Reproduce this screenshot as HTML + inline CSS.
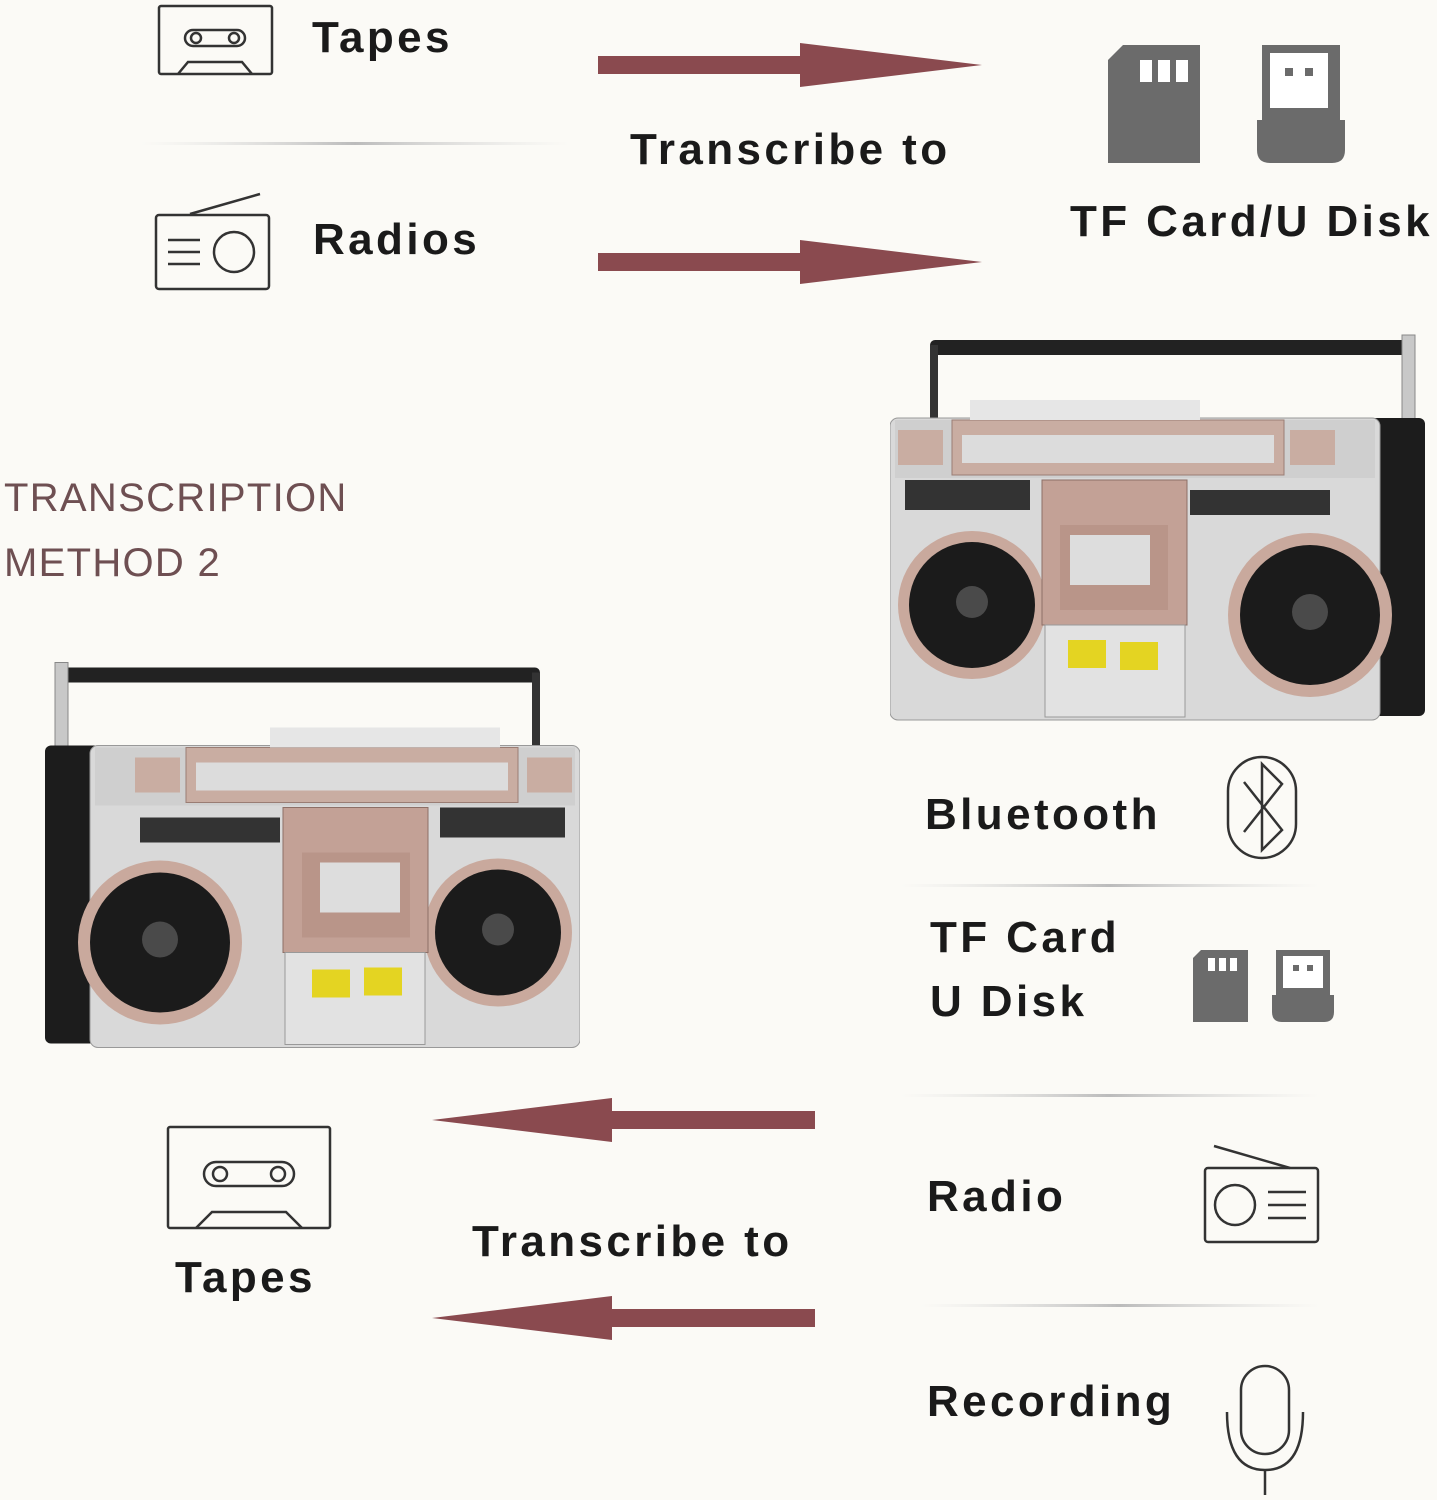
<!DOCTYPE html>
<html><head><meta charset="utf-8"><style>
body{margin:0;width:1437px;height:1500px;background:#fbfaf6;position:relative;overflow:hidden;font-family:"Liberation Sans",sans-serif}
.t{position:absolute;font-weight:bold;color:#1a1a1a;font-size:44px;line-height:1;white-space:nowrap;letter-spacing:3.4px}
.s{position:absolute;font-size:40px;color:#6e4f52;letter-spacing:1.3px;line-height:1}
svg{position:absolute}
</style></head><body>
<svg width="1437" height="1500" style="left:0;top:0">
<defs>
<linearGradient id="sep" x1="0" x2="1"><stop offset="0" stop-color="#ddd" stop-opacity="0"/><stop offset=".5" stop-color="#bbb"/><stop offset="1" stop-color="#ddd" stop-opacity="0"/></linearGradient>
</defs>
<rect x="140" y="142" width="430" height="3" fill="url(#sep)"/>
<rect x="900" y="884" width="420" height="3" fill="url(#sep)"/>
<rect x="900" y="1094" width="420" height="3" fill="url(#sep)"/>
<rect x="920" y="1304" width="400" height="3" fill="url(#sep)"/>
<g fill="#8a4a4f">
<polygon points="598,56 800,56 800,43 982,65 800,87 800,74 598,74"/>
<polygon points="598,253 800,253 800,240 982,262 800,284 800,271 598,271"/>
<polygon points="815,1111 612,1111 612,1098 432,1120 612,1142 612,1129 815,1129"/>
<polygon points="815,1309 612,1309 612,1296 432,1318 612,1340 612,1327 815,1327"/>
</g>
<g fill="none" stroke="#333" stroke-width="2.5">
<rect x="159" y="6" width="113" height="68" rx="2"/>
<rect x="185" y="30" width="60" height="16" rx="8"/>
<circle cx="196" cy="38" r="5"/><circle cx="234" cy="38" r="5"/>
<path d="M178,74 L188,62 L242,62 L252,74"/>
</g>
<g fill="none" stroke="#333" stroke-width="2.5">
<rect x="156" y="215" width="113" height="74" rx="3"/>
<line x1="190" y1="214" x2="260" y2="194"/>
<circle cx="234" cy="252" r="20"/>
<line x1="168" y1="240" x2="200" y2="240"/><line x1="168" y1="252" x2="200" y2="252"/><line x1="168" y1="264" x2="200" y2="264"/>
</g>
<path d="M1108,60 L1123,45 L1200,45 L1200,163 L1108,163 Z" fill="#6b6b6b"/>
<rect x="1140" y="60" width="12" height="22" fill="#fff"/><rect x="1158" y="60" width="12" height="22" fill="#fff"/><rect x="1176" y="60" width="12" height="22" fill="#fff"/>
<path d="M1262,45 L1340,45 L1340,120 L1345,120 L1345,150 Q1345,163 1332,163 L1270,163 Q1257,163 1257,150 L1257,120 L1262,120 Z" fill="#6b6b6b"/>
<rect x="1270" y="53" width="58" height="55" fill="#fff"/><rect x="1285" y="68" width="8" height="8" fill="#6b6b6b"/><rect x="1305" y="68" width="8" height="8" fill="#6b6b6b"/>
<rect x="1228" y="757" width="68" height="101" rx="34" fill="none" stroke="#333" stroke-width="2.5"/>
<path d="M1244,782 L1282,830 L1262,850 L1262,764 L1282,784 L1244,832" fill="none" stroke="#333" stroke-width="2.5"/>
<path d="M1193,958 L1201,950 L1248,950 L1248,1022 L1193,1022 Z" fill="#6b6b6b"/>
<rect x="1208" y="958" width="7" height="13" fill="#fff"/><rect x="1219" y="958" width="7" height="13" fill="#fff"/><rect x="1230" y="958" width="7" height="13" fill="#fff"/>
<path d="M1276,950 L1330,950 L1330,995 L1334,995 L1334,1012 Q1334,1022 1324,1022 L1282,1022 Q1272,1022 1272,1012 L1272,995 L1276,995 Z" fill="#6b6b6b"/>
<rect x="1283" y="956" width="40" height="32" fill="#fff"/><rect x="1293" y="965" width="6" height="6" fill="#6b6b6b"/><rect x="1307" y="965" width="6" height="6" fill="#6b6b6b"/>
<g fill="none" stroke="#333" stroke-width="2.5">
<rect x="168" y="1127" width="162" height="101" rx="2"/>
<rect x="204" y="1162" width="90" height="24" rx="12"/>
<circle cx="220" cy="1174" r="7"/><circle cx="278" cy="1174" r="7"/>
<path d="M196,1228 L212,1212 L286,1212 L302,1228"/>
</g>
<g fill="none" stroke="#333" stroke-width="2.5">
<rect x="1205" y="1168" width="113" height="74" rx="3"/>
<line x1="1214" y1="1146" x2="1290" y2="1168"/>
<circle cx="1235" cy="1205" r="20"/>
<line x1="1268" y1="1192" x2="1306" y2="1192"/><line x1="1268" y1="1205" x2="1306" y2="1205"/><line x1="1268" y1="1218" x2="1306" y2="1218"/>
</g>
<g fill="none" stroke="#333" stroke-width="2.5">
<rect x="1241" y="1366" width="48" height="88" rx="24"/>
<path d="M1227,1412 Q1227,1470 1265,1470 Q1303,1470 1303,1412"/>
<line x1="1265" y1="1470" x2="1265" y2="1495"/>
</g>
</svg>

<svg width="0" height="0" style="left:0;top:0"><defs>
<g id="bb">
<rect x="40" y="10" width="485" height="15" rx="5" fill="#222"/>
<rect x="40" y="15" width="8" height="80" fill="#333"/>
<rect x="512" y="5" width="13" height="135" fill="#c8c8c8" stroke="#888"/>
<rect x="470" y="88" width="65" height="298" rx="6" fill="#1c1c1c"/>
<rect x="0" y="88" width="490" height="302" rx="8" fill="#d9d9d9" stroke="#999"/>
<rect x="5" y="90" width="480" height="58" fill="#cfcfcf"/>
<rect x="62" y="90" width="332" height="55" fill="#c9ada2" stroke="#9a7d74"/>
<rect x="72" y="105" width="312" height="28" fill="#dcdcdc"/>
<rect x="8" y="100" width="45" height="35" fill="#c9ada2"/>
<rect x="400" y="100" width="45" height="35" fill="#c9ada2"/>
<rect x="80" y="70" width="230" height="20" fill="#e6e6e6"/>
<rect x="15" y="150" width="125" height="30" fill="#333"/>
<rect x="300" y="160" width="140" height="25" fill="#333"/>
<circle cx="82" cy="275" r="74" fill="#c9a99d"/>
<circle cx="82" cy="275" r="63" fill="#1b1b1b"/>
<circle cx="82" cy="272" r="16" fill="#4a4a4a"/>
<circle cx="420" cy="285" r="82" fill="#c9a99d"/>
<circle cx="420" cy="285" r="70" fill="#1b1b1b"/>
<circle cx="420" cy="282" r="18" fill="#4a4a4a"/>
<rect x="152" y="150" width="145" height="145" fill="#c3a196" stroke="#8d6f66"/>
<rect x="170" y="195" width="108" height="85" fill="#b99589"/>
<rect x="180" y="205" width="80" height="50" fill="#ddd"/>
<rect x="155" y="295" width="140" height="92" fill="#e2e2e2" stroke="#999"/>
<rect x="178" y="310" width="38" height="28" fill="#e4d422"/>
<rect x="230" y="312" width="38" height="28" fill="#e4d422"/>
</g></defs></svg>

<svg width="540" height="400" viewBox="0 0 540 400" style="left:890px;top:330px"><use href="#bb"/></svg>
<svg width="540" height="405" viewBox="0 0 540 400" style="left:40px;top:655px;transform:scaleX(-1)"><use href="#bb"/></svg>

<div class="t" style="left:312px;top:16px">Tapes</div>
<div class="t" style="left:313px;top:218px">Radios</div>
<div class="t" style="left:630px;top:128px">Transcribe to</div>
<div class="t" style="left:1070px;top:200px">TF Card/U Disk</div>
<div class="s" style="left:4px;top:478px">TRANSCRIPTION</div>
<div class="s" style="left:4px;top:543px">METHOD 2</div>
<div class="t" style="left:925px;top:793px">Bluetooth</div>
<div class="t" style="left:930px;top:916px">TF Card</div>
<div class="t" style="left:930px;top:980px">U Disk</div>
<div class="t" style="left:927px;top:1175px">Radio</div>
<div class="t" style="left:472px;top:1220px">Transcribe to</div>
<div class="t" style="left:175px;top:1256px">Tapes</div>
<div class="t" style="left:927px;top:1380px">Recording</div>
</body></html>
